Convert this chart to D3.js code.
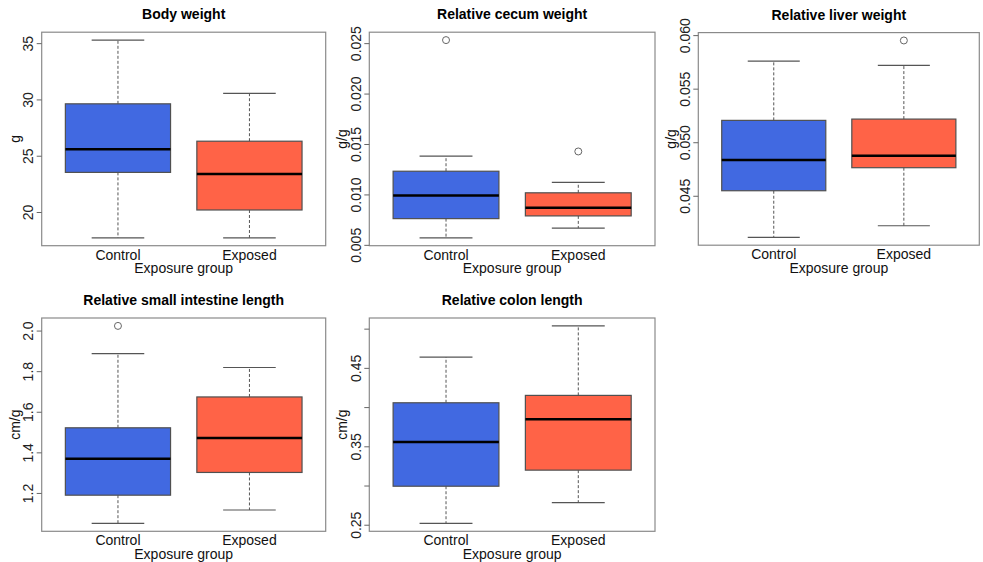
<!DOCTYPE html>
<html><head><meta charset="utf-8">
<script src="https://cdn.jsdelivr.net/npm/d3@7"></script>
<style>
html,body{margin:0;padding:0;background:#fff;}
svg{display:block;font-family:"Liberation Sans",Arial,sans-serif;}
</style></head>
<body><svg id="c" width="983" height="562"></svg>
<script>
// ---- data ----
const groups = ["Control", "Exposed"];
const titles = ["Body weight", "Relative cecum weight", "Relative liver weight",
                "Relative small intestine length", "Relative colon length"];
const yLabels = ["g", "g/g", "g/g", "cm/g", "cm/g"];
const xLabel = "Exposure group";
const groupColors = ["#4169E1", "#FF6347"];

// five-number summaries: [lower whisker, Q1, median, Q3, upper whisker]
const bodyWeightControl = [17.71, 23.52, 25.57, 29.61, 35.27];
const bodyWeightExposed = [17.71, 20.18, 23.37, 26.29, 30.54];
const cecumControl = [0.0057, 0.0076, 0.0099, 0.0123, 0.0138];
const cecumExposed = [0.00666, 0.00787, 0.00867, 0.01016, 0.0112];
const liverControl = [0.04112, 0.04547, 0.04833, 0.05204, 0.05757];
const liverExposed = [0.04220, 0.04762, 0.04874, 0.05216, 0.05717];
const intestineControl = [1.050, 1.189, 1.368, 1.521, 1.886];
const intestineExposed = [1.116, 1.301, 1.471, 1.673, 1.818];
const colonControl = [0.2517, 0.2991, 0.3555, 0.4055, 0.4637];
const colonExposed = [0.2781, 0.3196, 0.3845, 0.4149, 0.5035];

// outliers
const bodyWeightOutliers = [[], []];
const cecumOutliers = [[0.0253], [0.01426]];
const liverOutliers = [[], [0.0595]];
const intestineOutliers = [[2.023], []];
const colonOutliers = [[], []];

// y tick values and labels
const bodyWeightTicks = [20, 25, 30, 35];
const bodyWeightTickLabels = ["20", "25", "30", "35"];
const cecumTicks = [0.005, 0.010, 0.015, 0.020, 0.025];
const cecumTickLabels = ["0.005", "0.010", "0.015", "0.020", "0.025"];
const liverTicks = [0.045, 0.050, 0.055, 0.060];
const liverTickLabels = ["0.045", "0.050", "0.055", "0.060"];
const intestineTicks = [1.2, 1.4, 1.6, 1.8, 2.0];
const intestineTickLabels = ["1.2", "1.4", "1.6", "1.8", "2.0"];
const colonTicks = [0.25, 0.30, 0.35, 0.40, 0.45, 0.50];
const colonTickLabels = ["0.25", "", "0.35", "", "0.45", ""];

const panelStats = [
  [bodyWeightControl, bodyWeightExposed],
  [cecumControl, cecumExposed],
  [liverControl, liverExposed],
  [intestineControl, intestineExposed],
  [colonControl, colonExposed]
];
const panelOutliers = [bodyWeightOutliers, cecumOutliers, liverOutliers, intestineOutliers, colonOutliers];
const panelTicks = [bodyWeightTicks, cecumTicks, liverTicks, intestineTicks, colonTicks];
const panelTickLabels = [bodyWeightTickLabels, cecumTickLabels, liverTickLabels, intestineTickLabels, colonTickLabels];

// ---- layout (plot regions) ----
const layout = [
  {x: 41.7, y: 32.2, w: 284.0, h: 213.5},
  {x: 369.3, y: 32.2, w: 285.7, h: 213.5},
  {x: 698.3, y: 32.6, w: 281.0, h: 212.6},
  {x: 41.7, y: 318.0, w: 284.0, h: 213.3},
  {x: 369.3, y: 318.0, w: 285.7, h: 213.3}
];

const svg = d3.select("#c");

panelStats.forEach((stats, i) => {
  const L = layout[i];
  const g = svg.append("g").attr("transform", `translate(${L.x},${L.y})`);
  const outs = panelOutliers[i];
  const allVals = stats.flat().concat(outs.flat());
  const mn = d3.min(allVals), mx = d3.max(allVals), r = mx - mn;
  const y = d3.scaleLinear().domain([mn - 0.04 * r, mx + 0.04 * r]).range([L.h, 0]);
  const x = d3.scaleLinear().domain([0.42, 2.58]).range([0, L.w]);

  // boxes
  stats.forEach((s, k) => {
    const c = k + 1;
    const [lo, q1, md, q3, hi] = s;
    // whiskers
    g.append("line").attr("x1", x(c)).attr("x2", x(c)).attr("y1", y(q3)).attr("y2", y(hi))
      .attr("stroke", "#555").attr("stroke-width", 1).attr("stroke-dasharray", "3,2");
    g.append("line").attr("x1", x(c)).attr("x2", x(c)).attr("y1", y(q1)).attr("y2", y(lo))
      .attr("stroke", "#555").attr("stroke-width", 1).attr("stroke-dasharray", "3,2");
    // staples
    [lo, hi].forEach(v => {
      g.append("line").attr("x1", x(c - 0.2)).attr("x2", x(c + 0.2)).attr("y1", y(v)).attr("y2", y(v))
        .attr("stroke", "#555").attr("stroke-width", 1.2);
    });
    // box
    g.append("rect").attr("x", x(c - 0.4)).attr("width", x(c + 0.4) - x(c - 0.4))
      .attr("y", y(q3)).attr("height", y(q1) - y(q3))
      .attr("fill", groupColors[k]).attr("stroke", "#505050").attr("stroke-width", 1.2);
    // median
    g.append("line").attr("x1", x(c - 0.4)).attr("x2", x(c + 0.4)).attr("y1", y(md)).attr("y2", y(md))
      .attr("stroke", "#000").attr("stroke-width", 2.5);
    // outliers
    outs[k].forEach(v => {
      g.append("circle").attr("cx", x(c)).attr("cy", y(v)).attr("r", 3.5)
        .attr("fill", "none").attr("stroke", "#666").attr("stroke-width", 1);
    });
    // group label
    g.append("text").attr("x", x(c)).attr("y", L.h + 14).attr("text-anchor", "middle")
      .attr("font-size", 14).attr("fill", "#111").text(groups[k]);
  });

  // frame
  g.append("rect").attr("x", 0).attr("y", 0).attr("width", L.w).attr("height", L.h)
    .attr("fill", "none").attr("stroke", "#8a8a8a").attr("stroke-width", 1.2);

  // y axis ticks
  const ticks = panelTicks[i], labs = panelTickLabels[i];
  const ax = d3.axisLeft(y).tickValues(ticks).tickSize(5).tickFormat((d, j) => labs[j]);
  const axg = g.append("g").call(ax);
  axg.select(".domain").remove();
  axg.selectAll(".tick line").attr("stroke", "#666");
  axg.selectAll(".tick text")
    .attr("x", null).attr("dy", null).attr("y", null)
    .attr("transform", "translate(-8.5,0) rotate(-90)")
    .attr("text-anchor", "middle")
    .attr("font-size", 14).attr("font-family", "Liberation Sans, Arial, sans-serif").attr("fill", "#222");

  // titles & labels
  g.append("text").attr("x", L.w / 2).attr("y", -13).attr("text-anchor", "middle")
    .attr("font-size", 14).attr("font-weight", "bold").attr("fill", "#000").text(titles[i]);
  g.append("text").attr("x", L.w / 2).attr("y", L.h + 27.5).attr("text-anchor", "middle")
    .attr("font-size", 14).attr("fill", "#111").text(xLabel);
  g.append("text").attr("transform", `translate(-22,${L.h / 2}) rotate(-90)`).attr("text-anchor", "middle")
    .attr("font-size", 14).attr("fill", "#111").text(yLabels[i]);
});
</script></body></html>
